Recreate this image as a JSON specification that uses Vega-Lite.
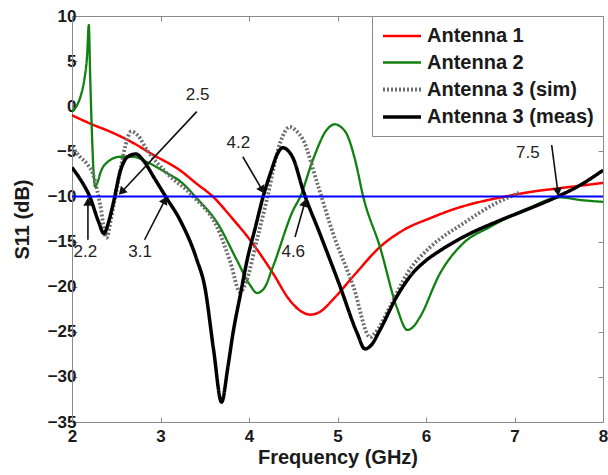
{
  "$schema": "https://vega.github.io/schema/vega-lite/v6.json",
  "width": 531,
  "height": 406,
  "autosize": "none",
  "padding": {"left": 72, "top": 16, "right": 5, "bottom": 53},
  "background": "white",
  "config": {"view": {"stroke": "#8a8a8a", "strokeWidth": 1}, "font": "Liberation Sans"},
  "datasets": {
    "curves": [
      {"s": "Antenna 1", "f": 2.0, "v": -1.0},
      {"s": "Antenna 1", "f": 2.2, "v": -1.9},
      {"s": "Antenna 1", "f": 2.45, "v": -2.9},
      {"s": "Antenna 1", "f": 2.66, "v": -3.9},
      {"s": "Antenna 1", "f": 2.92, "v": -5.4},
      {"s": "Antenna 1", "f": 3.22, "v": -7.1},
      {"s": "Antenna 1", "f": 3.41, "v": -8.6},
      {"s": "Antenna 1", "f": 3.59, "v": -10.0},
      {"s": "Antenna 1", "f": 3.8, "v": -12.3},
      {"s": "Antenna 1", "f": 4.01, "v": -14.8},
      {"s": "Antenna 1", "f": 4.27, "v": -18.5},
      {"s": "Antenna 1", "f": 4.46, "v": -21.5},
      {"s": "Antenna 1", "f": 4.6, "v": -22.8},
      {"s": "Antenna 1", "f": 4.69, "v": -23.1},
      {"s": "Antenna 1", "f": 4.8, "v": -22.8},
      {"s": "Antenna 1", "f": 4.96, "v": -21.3},
      {"s": "Antenna 1", "f": 5.2, "v": -18.6},
      {"s": "Antenna 1", "f": 5.48, "v": -15.6},
      {"s": "Antenna 1", "f": 5.75, "v": -13.7},
      {"s": "Antenna 1", "f": 6.05, "v": -12.4},
      {"s": "Antenna 1", "f": 6.35, "v": -11.3},
      {"s": "Antenna 1", "f": 6.61, "v": -10.6},
      {"s": "Antenna 1", "f": 6.9, "v": -10.0},
      {"s": "Antenna 1", "f": 7.18, "v": -9.5},
      {"s": "Antenna 1", "f": 7.5, "v": -9.1},
      {"s": "Antenna 1", "f": 7.75, "v": -8.8},
      {"s": "Antenna 1", "f": 8.0, "v": -8.5},

      {"s": "Antenna 2", "f": 2.0, "v": -0.6},
      {"s": "Antenna 2", "f": 2.05, "v": 0.0},
      {"s": "Antenna 2", "f": 2.1, "v": 1.2},
      {"s": "Antenna 2", "f": 2.14, "v": 3.0},
      {"s": "Antenna 2", "f": 2.17, "v": 5.5},
      {"s": "Antenna 2", "f": 2.19, "v": 9.0},
      {"s": "Antenna 2", "f": 2.205, "v": 3.5},
      {"s": "Antenna 2", "f": 2.22, "v": -1.5},
      {"s": "Antenna 2", "f": 2.245, "v": -7.5},
      {"s": "Antenna 2", "f": 2.26, "v": -8.9},
      {"s": "Antenna 2", "f": 2.29, "v": -8.4},
      {"s": "Antenna 2", "f": 2.32, "v": -7.4},
      {"s": "Antenna 2", "f": 2.4, "v": -6.2},
      {"s": "Antenna 2", "f": 2.54, "v": -5.6},
      {"s": "Antenna 2", "f": 2.69, "v": -5.6},
      {"s": "Antenna 2", "f": 2.85, "v": -6.2},
      {"s": "Antenna 2", "f": 3.07, "v": -7.4},
      {"s": "Antenna 2", "f": 3.22, "v": -8.3},
      {"s": "Antenna 2", "f": 3.41, "v": -10.2},
      {"s": "Antenna 2", "f": 3.64, "v": -12.9},
      {"s": "Antenna 2", "f": 3.86, "v": -17.0},
      {"s": "Antenna 2", "f": 4.01, "v": -19.8},
      {"s": "Antenna 2", "f": 4.09, "v": -20.7},
      {"s": "Antenna 2", "f": 4.17, "v": -20.2},
      {"s": "Antenna 2", "f": 4.27, "v": -17.8},
      {"s": "Antenna 2", "f": 4.5, "v": -11.5},
      {"s": "Antenna 2", "f": 4.58, "v": -10.0},
      {"s": "Antenna 2", "f": 4.72, "v": -6.0},
      {"s": "Antenna 2", "f": 4.88, "v": -2.6},
      {"s": "Antenna 2", "f": 4.97, "v": -2.0},
      {"s": "Antenna 2", "f": 5.05, "v": -2.4},
      {"s": "Antenna 2", "f": 5.1, "v": -3.0},
      {"s": "Antenna 2", "f": 5.2, "v": -6.0},
      {"s": "Antenna 2", "f": 5.29, "v": -10.0},
      {"s": "Antenna 2", "f": 5.48, "v": -15.6},
      {"s": "Antenna 2", "f": 5.67, "v": -22.3},
      {"s": "Antenna 2", "f": 5.79, "v": -24.8},
      {"s": "Antenna 2", "f": 5.86, "v": -24.4},
      {"s": "Antenna 2", "f": 5.93, "v": -23.4},
      {"s": "Antenna 2", "f": 6.16, "v": -18.5},
      {"s": "Antenna 2", "f": 6.42, "v": -15.2},
      {"s": "Antenna 2", "f": 6.72, "v": -13.4},
      {"s": "Antenna 2", "f": 7.18, "v": -11.2},
      {"s": "Antenna 2", "f": 7.51, "v": -10.1},
      {"s": "Antenna 2", "f": 7.75, "v": -10.4},
      {"s": "Antenna 2", "f": 8.0, "v": -10.6},

      {"s": "Antenna 3 (sim)", "f": 2.0, "v": -4.5},
      {"s": "Antenna 3 (sim)", "f": 2.09, "v": -5.6},
      {"s": "Antenna 3 (sim)", "f": 2.17, "v": -6.4},
      {"s": "Antenna 3 (sim)", "f": 2.24, "v": -7.6},
      {"s": "Antenna 3 (sim)", "f": 2.32, "v": -11.0},
      {"s": "Antenna 3 (sim)", "f": 2.39, "v": -14.6},
      {"s": "Antenna 3 (sim)", "f": 2.44, "v": -12.5},
      {"s": "Antenna 3 (sim)", "f": 2.49, "v": -10.0},
      {"s": "Antenna 3 (sim)", "f": 2.54, "v": -7.4},
      {"s": "Antenna 3 (sim)", "f": 2.6, "v": -4.5},
      {"s": "Antenna 3 (sim)", "f": 2.67, "v": -2.8},
      {"s": "Antenna 3 (sim)", "f": 2.74, "v": -3.2},
      {"s": "Antenna 3 (sim)", "f": 2.85, "v": -4.9},
      {"s": "Antenna 3 (sim)", "f": 3.07, "v": -7.4},
      {"s": "Antenna 3 (sim)", "f": 3.37, "v": -10.0},
      {"s": "Antenna 3 (sim)", "f": 3.64, "v": -13.4},
      {"s": "Antenna 3 (sim)", "f": 3.79, "v": -17.3},
      {"s": "Antenna 3 (sim)", "f": 3.9, "v": -20.6},
      {"s": "Antenna 3 (sim)", "f": 3.97, "v": -19.4},
      {"s": "Antenna 3 (sim)", "f": 4.09, "v": -14.8},
      {"s": "Antenna 3 (sim)", "f": 4.2, "v": -10.4},
      {"s": "Antenna 3 (sim)", "f": 4.35, "v": -4.1},
      {"s": "Antenna 3 (sim)", "f": 4.46, "v": -2.3},
      {"s": "Antenna 3 (sim)", "f": 4.53, "v": -2.7},
      {"s": "Antenna 3 (sim)", "f": 4.61, "v": -3.7},
      {"s": "Antenna 3 (sim)", "f": 4.77, "v": -8.5},
      {"s": "Antenna 3 (sim)", "f": 4.95, "v": -14.1},
      {"s": "Antenna 3 (sim)", "f": 5.18, "v": -20.0},
      {"s": "Antenna 3 (sim)", "f": 5.37, "v": -25.6},
      {"s": "Antenna 3 (sim)", "f": 5.42, "v": -25.2},
      {"s": "Antenna 3 (sim)", "f": 5.59, "v": -22.3},
      {"s": "Antenna 3 (sim)", "f": 5.79, "v": -18.5},
      {"s": "Antenna 3 (sim)", "f": 6.05, "v": -15.6},
      {"s": "Antenna 3 (sim)", "f": 6.42, "v": -13.0},
      {"s": "Antenna 3 (sim)", "f": 6.8, "v": -10.7},
      {"s": "Antenna 3 (sim)", "f": 6.98, "v": -9.9},
      {"s": "Antenna 3 (sim)", "f": 7.05, "v": -9.6},

      {"s": "Antenna 3 (meas)", "f": 2.0, "v": -6.8},
      {"s": "Antenna 3 (meas)", "f": 2.1, "v": -8.2},
      {"s": "Antenna 3 (meas)", "f": 2.2, "v": -10.0},
      {"s": "Antenna 3 (meas)", "f": 2.3, "v": -12.8},
      {"s": "Antenna 3 (meas)", "f": 2.36, "v": -14.1},
      {"s": "Antenna 3 (meas)", "f": 2.42, "v": -12.6},
      {"s": "Antenna 3 (meas)", "f": 2.47, "v": -10.6},
      {"s": "Antenna 3 (meas)", "f": 2.54, "v": -7.4},
      {"s": "Antenna 3 (meas)", "f": 2.63, "v": -5.6},
      {"s": "Antenna 3 (meas)", "f": 2.72, "v": -5.3},
      {"s": "Antenna 3 (meas)", "f": 2.82, "v": -6.2},
      {"s": "Antenna 3 (meas)", "f": 2.92, "v": -7.8},
      {"s": "Antenna 3 (meas)", "f": 3.07, "v": -10.2},
      {"s": "Antenna 3 (meas)", "f": 3.22, "v": -12.6},
      {"s": "Antenna 3 (meas)", "f": 3.41, "v": -17.0},
      {"s": "Antenna 3 (meas)", "f": 3.5, "v": -20.0},
      {"s": "Antenna 3 (meas)", "f": 3.6, "v": -27.0},
      {"s": "Antenna 3 (meas)", "f": 3.69, "v": -32.8},
      {"s": "Antenna 3 (meas)", "f": 3.76, "v": -29.0},
      {"s": "Antenna 3 (meas)", "f": 3.82, "v": -25.1},
      {"s": "Antenna 3 (meas)", "f": 3.9, "v": -21.0},
      {"s": "Antenna 3 (meas)", "f": 3.98, "v": -17.0},
      {"s": "Antenna 3 (meas)", "f": 4.07, "v": -13.5},
      {"s": "Antenna 3 (meas)", "f": 4.16, "v": -10.0},
      {"s": "Antenna 3 (meas)", "f": 4.25, "v": -7.2},
      {"s": "Antenna 3 (meas)", "f": 4.32, "v": -5.3},
      {"s": "Antenna 3 (meas)", "f": 4.38, "v": -4.6},
      {"s": "Antenna 3 (meas)", "f": 4.44, "v": -4.9},
      {"s": "Antenna 3 (meas)", "f": 4.5, "v": -5.8},
      {"s": "Antenna 3 (meas)", "f": 4.61, "v": -9.3},
      {"s": "Antenna 3 (meas)", "f": 4.8, "v": -14.1},
      {"s": "Antenna 3 (meas)", "f": 5.03, "v": -20.0},
      {"s": "Antenna 3 (meas)", "f": 5.22, "v": -25.1},
      {"s": "Antenna 3 (meas)", "f": 5.31, "v": -26.9},
      {"s": "Antenna 3 (meas)", "f": 5.38, "v": -26.5},
      {"s": "Antenna 3 (meas)", "f": 5.48, "v": -24.8},
      {"s": "Antenna 3 (meas)", "f": 5.67, "v": -21.1},
      {"s": "Antenna 3 (meas)", "f": 5.85, "v": -18.5},
      {"s": "Antenna 3 (meas)", "f": 6.0, "v": -17.1},
      {"s": "Antenna 3 (meas)", "f": 6.16, "v": -16.0},
      {"s": "Antenna 3 (meas)", "f": 6.5, "v": -14.1},
      {"s": "Antenna 3 (meas)", "f": 6.8, "v": -12.8},
      {"s": "Antenna 3 (meas)", "f": 7.18, "v": -11.3},
      {"s": "Antenna 3 (meas)", "f": 7.49, "v": -10.0},
      {"s": "Antenna 3 (meas)", "f": 7.75, "v": -8.7},
      {"s": "Antenna 3 (meas)", "f": 8.0, "v": -7.1}
    ],
    "arrows": [
      {"lab": "2.2", "f1": 2.18, "v1": -14.8, "f2": 2.18, "v2": -10.6, "ft": 2.15, "vt": -16.2},
      {"lab": "2.5", "f1": 3.41, "v1": -0.6, "f2": 2.56, "v2": -9.5, "ft": 3.42, "vt": 1.2},
      {"lab": "3.1", "f1": 2.82, "v1": -14.8, "f2": 3.05, "v2": -10.4, "ft": 2.77, "vt": -16.2},
      {"lab": "4.2", "f1": 3.93, "v1": -5.6, "f2": 4.15, "v2": -9.3, "ft": 3.88, "vt": -4.1},
      {"lab": "4.6", "f1": 4.52, "v1": -14.5, "f2": 4.63, "v2": -10.7, "ft": 4.5, "vt": -16.2},
      {"lab": "7.5", "f1": 7.42, "v1": -4.3, "f2": 7.49, "v2": -9.5, "ft": 7.15, "vt": -5.2}
    ],
    "threshold": [{"v": -10}],
    "frame": [{"f": 2, "v": -35}, {"f": 8, "v": 10}]
  },
  "layer": [
    {
      "layer": [
        {
          "data": {"name": "curves"},
          "mark": {"type": "line", "interpolate": "monotone", "clip": true},
          "encoding": {
            "x": {
              "field": "f", "type": "quantitative",
              "scale": {"domain": [2, 8], "nice": false, "zero": false},
              "axis": {
                "title": "Frequency (GHz)", "values": [2, 3, 4, 5, 6, 7, 8], "format": "d",
                "grid": false, "domainColor": "#8a8a8a", "tickColor": "#8a8a8a", "tickSize": -5,
                "labelFont": "Liberation Sans", "labelFontWeight": "bold", "labelFontSize": 17, "labelColor": "#1a1a1a",
                "labelPadding": 11, "labelFlush": false,
                "titleFont": "Liberation Sans", "titleFontWeight": "bold", "titleFontSize": 20, "titleColor": "#1a1a1a", "titlePadding": 3
              }
            },
            "y": {
              "field": "v", "type": "quantitative",
              "scale": {"domain": [-35, 10], "nice": false, "zero": false},
              "axis": {
                "title": "S11 (dB)", "values": [-35, -30, -25, -20, -15, -10, -5, 0, 5, 10],
                "grid": false, "domainColor": "#8a8a8a", "tickColor": "#8a8a8a", "tickSize": -5,
                "labelFont": "Liberation Sans", "labelFontWeight": "bold", "labelFontSize": 17, "labelColor": "#1a1a1a",
                "labelPadding": 1, "labelFlush": false,
                "titleFont": "Liberation Sans", "titleFontWeight": "bold", "titleFontSize": 20, "titleColor": "#1a1a1a", "titlePadding": 15
              }
            },
            "color": {
              "field": "s", "type": "nominal",
              "scale": {"domain": ["Antenna 1", "Antenna 2", "Antenna 3 (sim)", "Antenna 3 (meas)"], "range": ["#ff0000", "#108010", "#6e6e6e", "#000000"]},
              "legend": {
                "title": null, "orient": "top-right", "offset": 0, "padding": 9,
                "strokeColor": "#8a8a8a", "fillColor": "white", "cornerRadius": 0,
                "labelFont": "Liberation Sans", "labelFontWeight": "bold", "labelFontSize": 20, "labelColor": "#1a1a1a",
                "labelLimit": 400, "labelOffset": 23, "rowPadding": 5.5,
                "symbolType": "M-1,0H3", "symbolSize": 361
              }
            },
            "strokeDash": {
              "field": "s", "type": "nominal",
              "scale": {"domain": ["Antenna 1", "Antenna 2", "Antenna 3 (sim)", "Antenna 3 (meas)"], "range": [[1, 0], [1, 0], [2, 2], [1, 0]]},
              "legend": {"title": null}
            },
            "strokeWidth": {
              "field": "s", "type": "nominal",
              "scale": {"type": "ordinal", "domain": ["Antenna 1", "Antenna 2", "Antenna 3 (sim)", "Antenna 3 (meas)"], "range": [2.5, 2.3, 3.8, 3.5]},
              "legend": {"title": null}
            }
          }
        },
        {
          "data": {"name": "threshold"},
          "mark": {"type": "rule", "color": "#0000ff", "strokeWidth": 2},
          "encoding": {"y": {"field": "v", "type": "quantitative"}}
        },
        {
          "data": {"name": "arrows"},
          "mark": {"type": "rule", "color": "#111111", "strokeWidth": 1.6},
          "encoding": {
            "x": {"field": "f1", "type": "quantitative"},
            "y": {"field": "v1", "type": "quantitative"},
            "x2": {"field": "f2"},
            "y2": {"field": "v2"}
          }
        },
        {
          "data": {"name": "arrows"},
          "transform": [{"calculate": "atan2((datum.f2 - datum.f1) * 88.5, (datum.v2 - datum.v1) * 9.022) * 180 / PI", "as": "ang"}],
          "mark": {"type": "point", "shape": "triangle-up", "filled": true, "color": "#111111", "size": 85, "opacity": 1},
          "encoding": {
            "x": {"field": "f2", "type": "quantitative"},
            "y": {"field": "v2", "type": "quantitative"},
            "angle": {"field": "ang", "type": "quantitative", "scale": {"domain": [-360, 360], "range": [-360, 360]}}
          }
        },
        {
          "data": {"name": "arrows"},
          "mark": {"type": "text", "font": "Liberation Sans", "fontSize": 17, "color": "#222222", "align": "center", "baseline": "middle"},
          "encoding": {
            "x": {"field": "ft", "type": "quantitative"},
            "y": {"field": "vt", "type": "quantitative"},
            "text": {"field": "lab", "type": "nominal"}
          }
        }
      ]
    },
    {
      "data": {"name": "frame"},
      "mark": {"type": "point", "opacity": 0},
      "encoding": {
        "x": {
          "field": "f", "type": "quantitative",
          "scale": {"domain": [2, 8], "nice": false, "zero": false},
          "axis": {"orient": "top", "labels": false, "title": null, "domain": false, "grid": false, "values": [3, 4, 5, 6, 7], "tickSize": -5, "tickColor": "#8a8a8a"}
        },
        "y": {
          "field": "v", "type": "quantitative",
          "scale": {"domain": [-35, 10], "nice": false, "zero": false},
          "axis": {"orient": "right", "labels": false, "title": null, "domain": false, "grid": false, "values": [-30, -25, -20, -15, -10, -5, 0, 5], "tickSize": -5, "tickColor": "#8a8a8a"}
        }
      }
    }
  ],
  "resolve": {"scale": {"x": "independent", "y": "independent"}}
}
